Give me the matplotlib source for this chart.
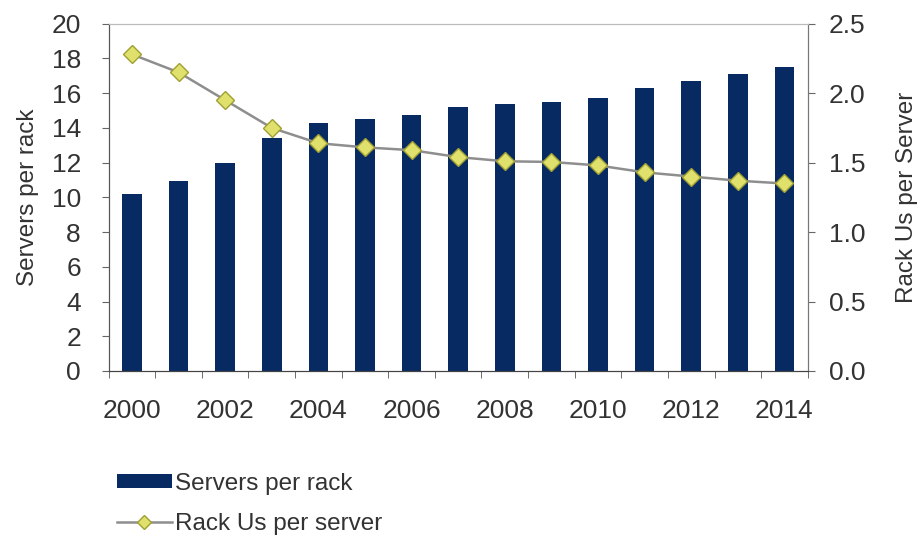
import numpy as np
import matplotlib.pyplot as plt
from matplotlib.ticker import FixedLocator

plt.rcParams['font.family'] = ['Liberation Sans', 'DejaVu Sans']

# Datos
anios = list(range(2000, 2015))
servidores_por_rack = [10.2, 10.95, 12.0, 13.4, 14.3, 14.5, 14.75, 15.2,
                       15.4, 15.5, 15.7, 16.3, 16.7, 17.1, 17.5]
rack_us_por_servidor = [2.28, 2.15, 1.95, 1.75, 1.64, 1.61, 1.59, 1.54,
                        1.51, 1.505, 1.48, 1.43, 1.40, 1.37, 1.35]

COLOR_BARRA = '#082a62'
COLOR_TEXTO = '#333333'

fig = plt.figure(figsize=(9.21, 5.4), dpi=100)
ax = fig.add_axes([0.118, 0.313, 0.759, 0.643])
ax2 = ax.twinx()

x = np.arange(len(anios))
barras = ax.bar(x, servidores_por_rack, width=0.42, color=COLOR_BARRA,
                label='Servers per rack', zorder=2)
linea, = ax2.plot(x, rack_us_por_servidor, color='#8e8e8e', lw=1.8,
                  marker='D', markersize=9.5, markerfacecolor='#e0e06c',
                  markeredgecolor='#a0a032', markeredgewidth=1,
                  label='Rack Us per server', zorder=3)

ax.set_xlim(-0.5, len(anios) - 0.5)
ax.set_ylim(0, 20)
ax2.set_ylim(0, 2.5)
ax.set_yticks(np.arange(0, 21, 2))
ax2.set_yticks(np.arange(0, 2.51, 0.5))
ax2.set_yticklabels(['%.1f' % v for v in np.arange(0, 2.51, 0.5)])

ax.set_xticks(x[::2])
ax.set_xticklabels([str(a) for a in anios[::2]])
ax.xaxis.set_minor_locator(FixedLocator(np.arange(-0.5, len(anios), 1)))
ax.tick_params(axis='x', which='major', length=0, pad=20)
ax.tick_params(axis='x', which='minor', length=5, color='#555555')

for a in (ax, ax2):
    a.tick_params(axis='y', length=5, color='#666666', labelsize=19,
                  labelcolor=COLOR_TEXTO)
ax.tick_params(axis='x', labelsize=19, labelcolor=COLOR_TEXTO)
ax.tick_params(axis='y', pad=15)
ax2.tick_params(axis='y', pad=10)

ax.set_ylabel('Servers per rack', fontsize=17.5, color=COLOR_TEXTO)
ax2.set_ylabel('Rack Us per Server', fontsize=17.5, color=COLOR_TEXTO)
ax.yaxis.set_label_coords(-0.100, 0.5)
ax2.yaxis.set_label_coords(1.127, 0.5)

for a in (ax, ax2):
    a.spines['top'].set_color('#bbbbbb')
    a.spines['left'].set_color('#555555')
    a.spines['right'].set_color('#777777')
    a.spines['bottom'].set_color('#444444')

fig.legend([barras, linea], ['Servers per rack', 'Rack Us per server'],
           loc='upper left', bbox_to_anchor=(0.127, 0.124), frameon=False,
           fontsize=17.5, labelcolor=COLOR_TEXTO, handlelength=2.26,
           handleheight=0.5, handletextpad=0.12, labelspacing=0.72,
           borderaxespad=0, borderpad=0, markerscale=0.8)

fig.savefig('out.png', dpi=100)
